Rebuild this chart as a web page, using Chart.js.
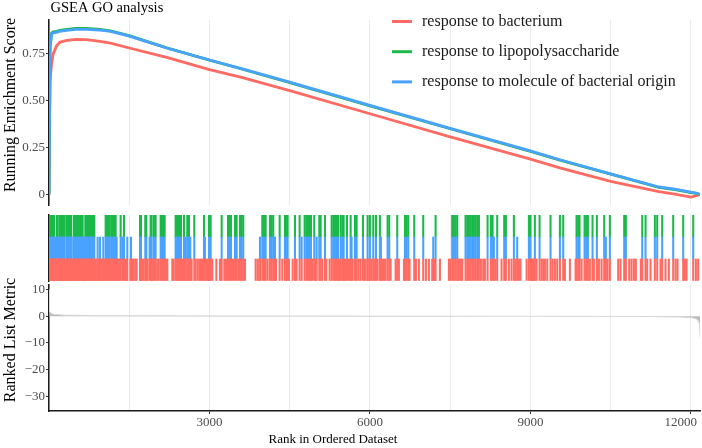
<!DOCTYPE html>
<html><head><meta charset="utf-8">
<script src="https://cdn.jsdelivr.net/npm/chart.js@4.4.1/dist/chart.umd.min.js"></script>
<style>
html,body{margin:0;padding:0;background:#fff;}
#wrap{position:relative;width:702px;height:448px;background:#fff;overflow:hidden;}
canvas{position:absolute;left:0;}
</style></head><body>
<div id="wrap">
<canvas id="cES" width="702" height="214" style="top:0px"></canvas>
<canvas id="cHits" width="702" height="70" style="top:213px"></canvas>
<canvas id="cMetric" width="702" height="172" style="top:276px"></canvas>
</div>
<script>
// ---------------- data ----------------
const chartTitle = 'GSEA GO analysis';
const geneSetNames = ['response to bacterium', 'response to lipopolysaccharide', 'response to molecule of bacterial origin'];
const rankMax = 12170;

// running enrichment score (rank, score)
const esRanks      = [0, 20, 50, 80, 140, 200, 330, 500, 700, 950, 1150, 1500, 2200, 3000, 3600, 4500, 6000, 7500, 9000, 9550, 10500, 11400, 11700, 12000, 12100, 12170];
const esBacterium  = [0, 0.61, 0.70, 0.75, 0.79, 0.81, 0.82, 0.826, 0.825, 0.815, 0.806, 0.78, 0.73, 0.665, 0.624, 0.553, 0.43, 0.307, 0.188, 0.142, 0.07, 0.015, 0.002, -0.014, -0.006, 0];
const esLPS        = [0, 0.78, 0.86, 0.866, 0.868, 0.874, 0.879, 0.884, 0.884, 0.879, 0.871, 0.846, 0.781, 0.715, 0.668, 0.596, 0.472, 0.35, 0.23, 0.183, 0.108, 0.038, 0.026, 0.01, 0.006, 0];
const esMolecule   = [0, 0.80, 0.855, 0.86, 0.863, 0.869, 0.874, 0.879, 0.879, 0.875, 0.868, 0.843, 0.78, 0.716, 0.67, 0.598, 0.474, 0.352, 0.232, 0.185, 0.11, 0.04, 0.028, 0.012, 0.008, 0];

// hit positions (ranks). LPS set is contained in "molecule of bacterial origin", which is contained in "bacterium"
const hitsLPS = [18, 37, 56, 75, 93, 143, 162, 199, 218, 237, 261, 286, 324, 342, 361, 386, 411, 461, 486, 511, 529, 554, 579, 604, 629, 679, 698, 716, 735, 754, 772, 791, 810, 828, 847, 1059, 1084, 1109, 1134, 1165, 1190, 1215, 1246, 1339, 1401, 1701, 1719, 1800, 1819, 1900, 1919, 1962, 1993, 2087, 2112, 2137, 2162, 2367, 2392, 2417, 2442, 2467, 2523, 2585, 2616, 2716, 2897, 2990,
  3022, 3228, 3346, 3371, 3402, 3477, 3508, 3570, 3601, 3632, 3988, 4019, 4050, 4131, 4162, 4193, 4312, 4411, 4436, 4461, 4598, 4685, 4779, 4810, 4841, 4872, 4897, 4959, 5053, 5078, 5159, 5284, 5315, 5346, 5377, 5402, 5452, 5483, 5508, 5570, 5639, 5720, 5751, 5869, 5956,
  5999, 6062, 6112, 6186, 6330, 6361, 6510, 6654, 6685, 6716, 6828, 6996, 7227, 7538, 7569, 7601, 7632, 7787, 7819, 7850, 7881, 7912, 7943, 7974, 8006, 8037, 8199, 8261, 8292, 8379, 8510, 8541, 8691, 8971,
  9002, 9083, 9171, 9376, 9551, 9613, 9862, 9893, 9918, 10012, 10043, 10074, 10161, 10242, 10379, 10485, 10753, 10784, 11090, 11152, 11326, 11370, 11463, 11669, 11856, 12043];
const hitsMoleculeExtra = [112, 174, 424, 648, 666, 909, 953, 1015, 1265, 1370, 1464, 1532, 1881, 2554, 2641, 2915, 3944, 4224, 4723, 5003, 5657, 6205, 7183, 8317, 8753, 10410];
const hitsBacteriumExtra = [50, 81, 106, 131, 180, 249, 274, 305, 374, 436, 448, 542, 654, 872, 903, 928, 972, 997, 1034, 1146, 1283, 1308, 1420, 1445, 1520, 1557, 1582, 1613, 1638, 1744, 1769, 1844, 1937, 2025, 2050, 2187, 2212, 2305, 2330, 2492, 2548, 2666, 2741, 2778, 2809, 2841, 2866, 2940, 2965, 3009,
  3053, 3128, 3196, 3277, 3308, 3439, 3539, 3664, 3863, 3900, 3931, 4087, 4243, 4361, 4486, 4555, 4629, 4922, 4991, 5109, 5184, 5246, 5420, 5533, 5607, 5676, 5788, 5825, 5906, 5987,
  5950, 6031, 6087, 6143, 6230, 6261, 6292, 6386, 6479, 6541, 6635, 6741, 6859, 6915, 7046, 7102, 7164, 7202, 7308, 7476, 7501, 7663, 7694, 7725, 8074, 8118, 8149, 8348, 8460, 8597, 8647, 8722, 8784, 8815, 8928, 9040, 9071,
  9021, 9052, 9115, 9208, 9239, 9270, 9314, 9414, 9457, 9501, 9644, 9738, 9844, 9956, 10111, 10186, 10280, 10330, 10442, 10641, 10685, 10847, 10890, 10934, 10971, 11065, 11183, 11245, 11432, 11526, 11588, 11713, 11750, 11887, 11918, 12093, 12136];

// ranked list metric
const metricRanks  = [1, 4, 15, 40, 100, 300, 1000, 3000, 6000, 9000, 11000, 11800, 12000, 12100, 12140, 12160, 12168, 12170];
const metricValues = [9.9, 3.0, 1.6, 1.0, 0.6, 0.35, 0.18, 0.08, 0.02, -0.04, -0.12, -0.3, -0.5, -1.0, -1.8, -3, -5, -8];

// axes
const xGridRanks   = [1500, 3000, 4500, 6000, 7500, 9000, 10500, 12000];
const xTickLabels  = [3000, 6000, 9000, 12000];
const esTicks      = [0, 0.25, 0.5, 0.75];
const esTickLabels = ['0', '0.25', '0.50', '0.75'];
const metricTicks  = [10, 0, -10, -20, -30];
const metricTickLabels = ['10', '0', '\u221210', '\u221220', '\u221230'];
const yTitleES = 'Running Enrichment Score';
const yTitleMetric = 'Ranked List Metric';
const xTitle = 'Rank in Ordered Dataset';

// ---------------- styles ----------------
const setColors = ['#FF6B62', '#1BB84A', '#4AA2FF'];
const FONT = "'Liberation Serif', 'DejaVu Serif', serif";
const GRID = '#EBEBEB';
const TICKTXT = '#4D4D4D';
const AXIS = '#1A1A1A';
Chart.defaults.font.family = FONT;
Chart.defaults.animation = false;

const hitsMolecule = hitsLPS.concat(hitsMoleculeExtra);
const hitsBacterium = hitsMolecule.concat(hitsBacteriumExtra);

function xGridScale(extra) {
  return Object.assign({
    type: 'linear', min: 0, max: rankMax, offset: false,
    afterBuildTicks: s => { s.ticks = [0].concat(xGridRanks).map(v => ({value: v})); },
    grid: {color: GRID, lineWidth: 1, drawTicks: false, offset: false},
    ticks: {display: false},
    border: {display: false},
    afterFit: s => { s.height = 0; }
  }, extra || {});
}
const basePlugins = {legend: {display: false}, tooltip: {enabled: false}, title: {display: false}};

// ---------------- top panel ----------------
const esSeries = [esBacterium, esLPS, esMolecule];
new Chart(document.getElementById('cES'), {
  type: 'line',
  data: {
    datasets: esSeries.map((vals, i) => ({
      label: geneSetNames[i],
      data: esRanks.map((r, k) => ({x: r, y: vals[k]})),
      borderColor: setColors[i], borderWidth: 2.8, pointRadius: 0, tension: 0,
      fill: false, order: 3 - i
    }))
  },
  options: {
    responsive: false, devicePixelRatio: 1,
    layout: {padding: {left: 0, right: 2, top: 20, bottom: 2}, autoPadding: false},
    plugins: basePlugins,
    scales: {
      x: xGridScale(),
      y: {
        type: 'linear', min: -0.057, max: 0.929,
        afterBuildTicks: s => { s.ticks = esTicks.map(v => ({value: v})); },
        ticks: {callback: v => esTickLabels[esTicks.indexOf(v)], color: TICKTXT, font: {size: 13}, padding: 1},
        grid: {drawOnChartArea: false, drawTicks: true, tickLength: 3, tickColor: '#333', tickWidth: 1},
        border: {display: true, color: AXIS, width: 1.5},
        afterFit: s => { s.width = 49; }
      }
    }
  },
  plugins: [{
    id: 'esDecor',
    afterDraw(chart) {
      const ctx = chart.ctx, a = chart.chartArea;
      ctx.save();
      ctx.fillStyle = '#000';
      ctx.textBaseline = 'middle';
      ctx.textAlign = 'left';
      ctx.font = '14.5px ' + FONT;
      ctx.fillText(chartTitle, a.left + 1.5, 8);
      ctx.save();
      ctx.translate(11, 105);
      ctx.rotate(-Math.PI / 2);
      ctx.textAlign = 'center';
      ctx.font = '16px ' + FONT;
      ctx.fillText(yTitleES, 0, 0);
      ctx.restore();
      ctx.font = '16px ' + FONT;
      chart.data.datasets.forEach((ds, i) => {
        const y = 21.5 + i * 30.2;
        ctx.strokeStyle = ds.borderColor;
        ctx.lineWidth = 3;
        ctx.beginPath(); ctx.moveTo(392, y); ctx.lineTo(412, y); ctx.stroke();
        ctx.fillStyle = '#1A1A1A';
        ctx.fillText(ds.label, 422, y);
      });
      ctx.restore();
    }
  }]
});

// ---------------- hit ticks ----------------
const hitSets = [
  {hits: hitsBacterium, band: [0, 1], color: setColors[0]},
  {hits: hitsMolecule, band: [1, 2], color: setColors[2]},
  {hits: hitsLPS, band: [2, 3], color: setColors[1]}
];
new Chart(document.getElementById('cHits'), {
  type: 'bar',
  data: {
    datasets: hitSets.map(h => ({
      data: h.hits.map(r => ({x: r, y: h.band})),
      backgroundColor: h.color, borderWidth: 0, barThickness: 1.4, grouped: false
    }))
  },
  options: {
    responsive: false, devicePixelRatio: 1,
    layout: {padding: {left: 0, right: 2, top: 2, bottom: 2}, autoPadding: false},
    plugins: basePlugins,
    scales: {
      x: xGridScale(),
      y: {
        type: 'linear', min: 0, max: 3,
        ticks: {display: false},
        grid: {drawOnChartArea: false, drawTicks: false},
        border: {display: true, color: AXIS, width: 1.5},
        afterFit: s => { s.width = 49; }
      }
    }
  }
});

// ---------------- ranked list metric ----------------
new Chart(document.getElementById('cMetric'), {
  type: 'line',
  data: {
    datasets: [{
      data: metricRanks.map((r, k) => ({x: r, y: metricValues[k]})),
      borderColor: '#D6D6D6', borderWidth: 1, pointRadius: 0, tension: 0,
      fill: 'origin', backgroundColor: 'rgba(175,175,175,0.85)'
    }]
  },
  options: {
    responsive: false, devicePixelRatio: 1,
    layout: {padding: {left: 0, right: 2, top: 7, bottom: 0}, autoPadding: false},
    plugins: Object.assign({filler: {propagate: false}}, basePlugins),
    scales: {
      x: xGridScale({
        grid: {
          color: GRID, lineWidth: 1, drawTicks: true, tickLength: 3, tickWidth: 1, offset: false,
          tickColor: c => (c.tick && xTickLabels.indexOf(c.tick.value) >= 0) ? '#333' : 'rgba(0,0,0,0)'
        },
        border: {display: true, color: AXIS, width: 1.5},
        afterFit: s => { s.height = 37; }
      }),
      y: {
        type: 'linear', min: -35.4, max: 11.7,
        afterBuildTicks: s => { s.ticks = metricTicks.map(v => ({value: v})); },
        ticks: {callback: v => metricTickLabels[metricTicks.indexOf(v)], color: TICKTXT, font: {size: 13}, padding: 1},
        grid: {drawOnChartArea: false, drawTicks: true, tickLength: 3, tickColor: '#333', tickWidth: 1},
        border: {display: true, color: AXIS, width: 1.5},
        afterFit: s => { s.width = 49; }
      }
    }
  },
  plugins: [{
    id: 'metricDecor',
    afterDraw(chart) {
      const ctx = chart.ctx, xs = chart.scales.x;
      ctx.save();
      ctx.textBaseline = 'middle';
      ctx.textAlign = 'center';
      ctx.font = '13px ' + FONT;
      ctx.fillStyle = TICKTXT;
      xTickLabels.forEach(v => {
        const t = String(v);
        const w = ctx.measureText(t).width;
        const px = Math.min(xs.getPixelForValue(v), chart.width - 5 - w / 2);
        ctx.fillText(t, px, 147);
      });
      ctx.fillStyle = '#000';
      ctx.font = '13px ' + FONT;
      ctx.fillText(xTitle, 333, 164);
      ctx.save();
      ctx.translate(11, 64);
      ctx.rotate(-Math.PI / 2);
      ctx.font = '16px ' + FONT;
      ctx.fillText(yTitleMetric, 0, 0);
      ctx.restore();
      ctx.restore();
    }
  }]
});
</script>
</body></html>
